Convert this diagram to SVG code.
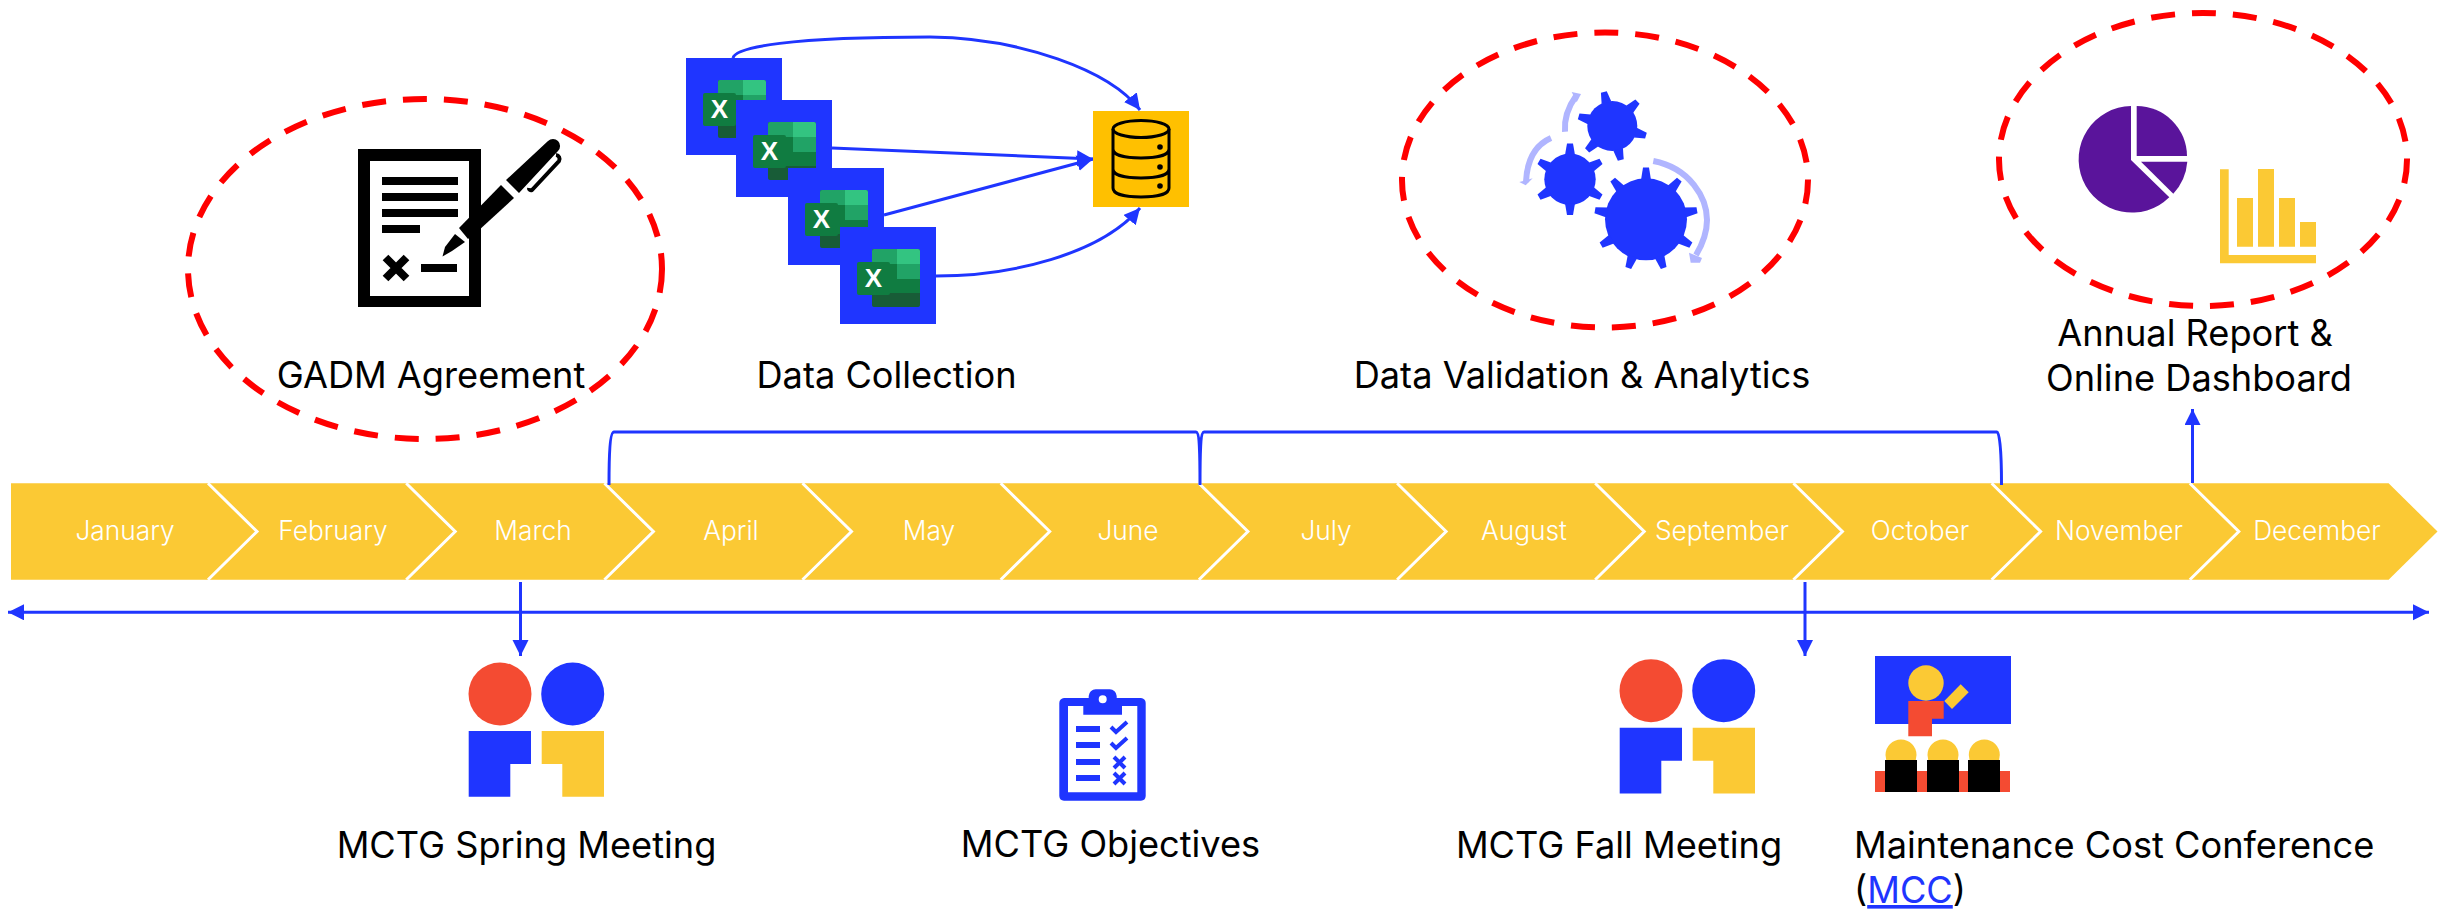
<svg xmlns="http://www.w3.org/2000/svg" width="2453" height="909" viewBox="0 0 2453 909">
<style>
text{font-family:"Inter","Liberation Sans",sans-serif;fill:#000}
.lab{font-size:36.2px}
.mon{font-size:26.3px;fill:#fff;text-anchor:middle;font-weight:300}
.chev{fill:#FBC934}
.sep{fill:none;stroke:#fff;stroke-width:3}
.ell{fill:none;stroke:#FF0000;stroke-width:6;stroke-dasharray:24 17}
.con{fill:none;stroke:#1F35FF;stroke-width:3}
.blue{fill:#1F35FF}.yel{fill:#FBC934}.red{fill:#F44B32}.blk{fill:#000}
.arc{fill:none;stroke:#B0B5FF;stroke-width:6}
</style>
<defs>
<marker id="ah" markerUnits="userSpaceOnUse" markerWidth="18" markerHeight="18" refX="16" refY="8" orient="auto-start-reverse"><path d="M0 0L16 8L0 16Z" fill="#1F35FF"/></marker>
<g id="xl">
<rect width="96" height="97" fill="#1F35FF"/>
<rect x="32" y="22" width="48" height="58" rx="2" fill="#185C37"/>
<path d="M32 24a2 2 0 0 1 2-2h23v15h-25Z" fill="#21A366"/>
<path d="M57 22h21a2 2 0 0 1 2 2v13h-23Z" fill="#33C481"/>
<rect x="57" y="37" width="23" height="15" fill="#21A366"/>
<rect x="57" y="52" width="23" height="14" fill="#107C41"/>
<rect x="32" y="37" width="25" height="29" fill="#107C41"/>
<rect x="17" y="35" width="33" height="33" rx="2" fill="#107C41"/>
<text x="33.500" y="60" text-anchor="middle" style="font-family:'Liberation Sans',sans-serif;font-size:26px;fill:#fff;font-weight:700">X</text>
</g>
<g id="pair">
<circle cx="500" cy="694" r="31.500" class="red"/>
<circle cx="572.700" cy="694" r="31.500" class="blue"/>
<path d="M468.700 731H531V764H510.300V796.700H468.700Z" class="blue"/>
<path d="M541.700 731H604V796.700H562.300V764H541.700Z" class="yel"/>
</g>
</defs>
<g id="ellipses">
<ellipse class="ell" cx="425" cy="269" rx="237" ry="170"/>
<ellipse class="ell" cx="1605" cy="180" rx="203" ry="147.500"/>
<ellipse class="ell" cx="2203" cy="159.500" rx="204" ry="146.500"/>
</g>
<g id="timeline">
<path class="chev" d="M11 483.300H2388.600L2437.500 531.500L2388.600 579.700H11Z"/>
<path class="sep" d="M208 483.300L257 531.500L208 579.700M406.200 483.300L455.200 531.500L406.200 579.700M604.400 483.300L653.400 531.500L604.400 579.700M802.500 483.300L851.500 531.500L802.500 579.700M1000.700 483.300L1049.700 531.500L1000.700 579.700M1198.900 483.300L1247.900 531.500L1198.900 579.700M1397.100 483.300L1446.100 531.500L1397.100 579.700M1595.200 483.300L1644.200 531.500L1595.200 579.700M1793.400 483.300L1842.400 531.500L1793.400 579.700M1991.600 483.300L2040.600 531.500L1991.600 579.700M2189.800 483.300L2238.800 531.500L2189.800 579.700"/>
<text class="mon" x="125" y="540">January</text>
<text class="mon" x="333" y="540">February</text>
<text class="mon" x="533" y="540">March</text>
<text class="mon" x="731" y="540">April</text>
<text class="mon" x="929" y="540">May</text>
<text class="mon" x="1128" y="540">June</text>
<text class="mon" x="1326" y="540">July</text>
<text class="mon" x="1524" y="540">August</text>
<text class="mon" x="1722" y="540">September</text>
<text class="mon" x="1920" y="540">October</text>
<text class="mon" x="2119" y="540">November</text>
<text class="mon" x="2317" y="540">December</text>
</g>
<g id="connectors">
<path class="con" d="M8 612.300H2429" marker-start="url(#ah)" marker-end="url(#ah)"/>
<path class="con" d="M520.500 582V656" marker-end="url(#ah)"/>
<path class="con" d="M1805 582V656" marker-end="url(#ah)"/>
<path class="con" d="M2192.500 483V409" marker-end="url(#ah)"/>
<path class="con" d="M609 485C609 455 610 432 614 432H1196C1199 432 1200 445 1200 485C1200 445 1201 432 1204 432H1997C2000 432 2001.500 455 2001.500 485"/>
</g>
<g id="gadm">
<path class="blk" fill-rule="evenodd" d="M358 149H481V307H358ZM370 161V296H469V161Z"/>
<path class="blk" d="M382 177H458V185H382ZM382 193H458V201H382ZM382 209H458V217H382ZM382 225H420V233H382ZM421 264H457V272H421Z"/>
<path fill="none" stroke="#000" stroke-width="8" d="M385.500 257.500L406.500 278.500M406.500 257.500L385.500 278.500"/>
<path class="blk" d="M442.500 256.500L445 247L455 234L465 242L452 251Z"/>
<path class="blk" d="M459 228L501 185L514 198L478 231L468 239Z"/>
<path d="M506 180L548 141A6 6 0 0 1 558 151L519 193Z" class="blk"/>
<path d="M556 155A4 4 0 0 1 559 161L532 190A2 2 0 0 1 529 188" fill="none" stroke="#000" stroke-width="4"/>
<text class="lab" x="431" y="388" text-anchor="middle">GADM Agreement</text>
</g>
<g id="excel-1"><use href="#xl" x="686" y="58"/></g>
<g id="excel-2"><use href="#xl" x="736" y="100"/></g>
<g id="excel-3"><use href="#xl" x="788" y="168"/></g>
<g id="excel-4"><use href="#xl" x="840" y="227"/></g>
<g id="collection-connectors">
<path class="con" d="M733 58C735 47 790 37 930 37C1020 38 1110 70 1140 110" marker-end="url(#ah)"/>
<path class="con" d="M832 148L1093 159" marker-end="url(#ah)"/>
<path class="con" d="M884 215L1093 159" marker-end="url(#ah)"/>
<path class="con" d="M936 276C1010 276 1100 255 1140 208" marker-end="url(#ah)"/>
</g>
<g id="database">
<rect x="1093" y="111" width="96" height="96" fill="#FFC000"/>
<g fill="none" stroke="#000" stroke-width="3">
<ellipse cx="1141" cy="129" rx="28" ry="8.500"/>
<path d="M1113 129V188C1113 194 1125 197 1141 197C1157 197 1169 194 1169 188V129M1113 149C1113 155 1125 158 1141 158C1157 158 1169 155 1169 149M1113 169C1113 175 1125 178 1141 178C1157 178 1169 175 1169 169"/>
</g>
<circle cx="1160" cy="147" r="2.800"/><circle cx="1160" cy="167" r="2.800"/><circle cx="1160" cy="186" r="2.800"/>
</g>
<text id="data-collection" class="lab" x="886.500" y="388" text-anchor="middle">Data Collection</text>
<g id="gears">
<circle cx="1646" cy="219.300" r="41" class="blue"/>
<g class="blue" id="big-teeth">
<path d="M1641 180L1643 167.500H1649L1651 180Z" transform="rotate(0 1646 219.300)"/>
<path d="M1641 180L1643 167.500H1649L1651 180Z" transform="rotate(40 1646 219.300)"/>
<path d="M1641 180L1643 167.500H1649L1651 180Z" transform="rotate(80 1646 219.300)"/>
<path d="M1641 180L1643 167.500H1649L1651 180Z" transform="rotate(120 1646 219.300)"/>
<path d="M1641 180L1643 167.500H1649L1651 180Z" transform="rotate(160 1646 219.300)"/>
<path d="M1641 180L1643 167.500H1649L1651 180Z" transform="rotate(200 1646 219.300)"/>
<path d="M1641 180L1643 167.500H1649L1651 180Z" transform="rotate(240 1646 219.300)"/>
<path d="M1641 180L1643 167.500H1649L1651 180Z" transform="rotate(280 1646 219.300)"/>
<path d="M1641 180L1643 167.500H1649L1651 180Z" transform="rotate(320 1646 219.300)"/>
</g>
<circle cx="1570" cy="179.300" r="25.700" class="blue"/>
<g class="blue">
<path d="M1565 155L1567 143.500H1573L1575 155Z" transform="rotate(0 1570 179.300)"/>
<path d="M1565 155L1567 143.500H1573L1575 155Z" transform="rotate(60 1570 179.300)"/>
<path d="M1565 155L1567 143.500H1573L1575 155Z" transform="rotate(120 1570 179.300)"/>
<path d="M1565 155L1567 143.500H1573L1575 155Z" transform="rotate(180 1570 179.300)"/>
<path d="M1565 155L1567 143.500H1573L1575 155Z" transform="rotate(240 1570 179.300)"/>
<path d="M1565 155L1567 143.500H1573L1575 155Z" transform="rotate(300 1570 179.300)"/>
</g>
<circle cx="1612.300" cy="126" r="25" class="blue"/>
<g class="blue">
<path d="M1607.300 102L1609.300 91H1615.300L1617.300 102Z" transform="rotate(-14 1612.300 126)"/>
<path d="M1607.300 102L1609.300 91H1615.300L1617.300 102Z" transform="rotate(46 1612.300 126)"/>
<path d="M1607.300 102L1609.300 91H1615.300L1617.300 102Z" transform="rotate(106 1612.300 126)"/>
<path d="M1607.300 102L1609.300 91H1615.300L1617.300 102Z" transform="rotate(166 1612.300 126)"/>
<path d="M1607.300 102L1609.300 91H1615.300L1617.300 102Z" transform="rotate(226 1612.300 126)"/>
<path d="M1607.300 102L1609.300 91H1615.300L1617.300 102Z" transform="rotate(286 1612.300 126)"/>
</g>
<path class="arc" d="M1653.300 161C1690 168 1707 198 1707 220C1707 233 1702 245 1696 255"/>
<path d="M1689 252.700L1702 258L1700 262.700L1690.700 262.700Z" fill="#B0B5FF"/>
<path class="arc" d="M1551 138C1535 145 1527 160 1526 182"/>
<path d="M1519.300 182L1532.700 178.300L1525.700 185.300Z" fill="#B0B5FF"/>
<path class="arc" d="M1565 131.700C1564 118 1568 107 1576 96"/>
<path d="M1571.700 92L1581 94L1576.700 102.300Z" fill="#B0B5FF"/>
</g>
<text id="validation-label" class="lab" x="1582" y="388" text-anchor="middle">Data Validation &amp; Analytics</text>
<g id="report">
<g fill="#5A149B">
<path d="M2131 160V106A53.300 53.300 0 1 0 2169.300 197.300Z"/>
<path d="M2136.700 156V106A50.300 50.300 0 0 1 2187 156Z"/>
<path d="M2141 161.700H2187.300A53.300 53.300 0 0 1 2173.300 193.700Z"/>
</g>
<path class="yel" d="M2220 169.300H2228.700V255H2316V263.300H2220ZM2237 198H2253V246.700H2237ZM2258 169H2274V246.700H2258ZM2279 198H2295V246.700H2279ZM2300 222H2316V246.700H2300Z"/>
<text class="lab" x="2195" y="346" text-anchor="middle">Annual Report &amp;</text>
<text class="lab" x="2199" y="391" text-anchor="middle">Online Dashboard</text>
</g>
<g id="spring-meeting"><use href="#pair"/>
<text class="lab" x="526.500" y="858" text-anchor="middle">MCTG Spring Meeting</text></g>
<g id="objectives">
<path class="blue" fill-rule="evenodd" d="M1064 698H1088.700V696A7 7 0 0 1 1095.700 689.300H1109.700A7 7 0 0 1 1116.700 696V698H1141A5 5 0 0 1 1145.700 703V796A5 5 0 0 1 1141 800.700H1064A5 5 0 0 1 1059.300 796V703A5 5 0 0 1 1064 698ZM1068 706V792.300H1137.300V706H1122V714.700H1083.300V706ZM1102.700 695.300A4 4 0 1 0 1102.700 703.300A4 4 0 1 0 1102.700 695.300Z"/>
<path class="blue" d="M1076 726H1100V732H1076ZM1076 742H1100V748H1076ZM1076 759H1100V765H1076ZM1076 775H1100V781H1076Z"/>
<path fill="none" stroke="#1F35FF" stroke-width="4" d="M1111 727L1116 732L1127 722M1111 743L1116 748L1127 738M1114 757L1125 768M1125 757L1114 768M1114 773L1125 784M1125 773L1114 784"/>
<text class="lab" x="1110.500" y="857" text-anchor="middle">MCTG Objectives</text>
</g>
<g id="fall-meeting"><use href="#pair" x="1151" y="-3.300"/>
<text class="lab" x="1619" y="858" text-anchor="middle">MCTG Fall Meeting</text></g>
<g id="conference">
<rect x="1875" y="656" width="136" height="68" class="blue"/>
<circle cx="1926" cy="683" r="17.700" class="yel"/>
<path class="red" d="M1908.300 701H1943.700V718.700H1932V736.300H1908.300Z"/>
<path class="yel" d="M1944.300 701L1960.700 684.300L1968.700 692.300L1952 709Z"/>
<rect x="1875" y="771" width="135" height="21" class="red"/>
<circle cx="1901" cy="755" r="15.500" class="yel"/><circle cx="1943" cy="755" r="15.500" class="yel"/><circle cx="1984.300" cy="755" r="15.500" class="yel"/>
<path class="blk" d="M1885 760H1917V792H1885ZM1927 760H1959V792H1927ZM1968 760H2000V792H1968Z"/>
<text class="lab" x="1854" y="858">Maintenance Cost Conference</text>
<text class="lab" x="1854" y="903">(<tspan fill="#1F35FF" text-decoration="underline">MCC</tspan>)</text>
</g>
</svg>
